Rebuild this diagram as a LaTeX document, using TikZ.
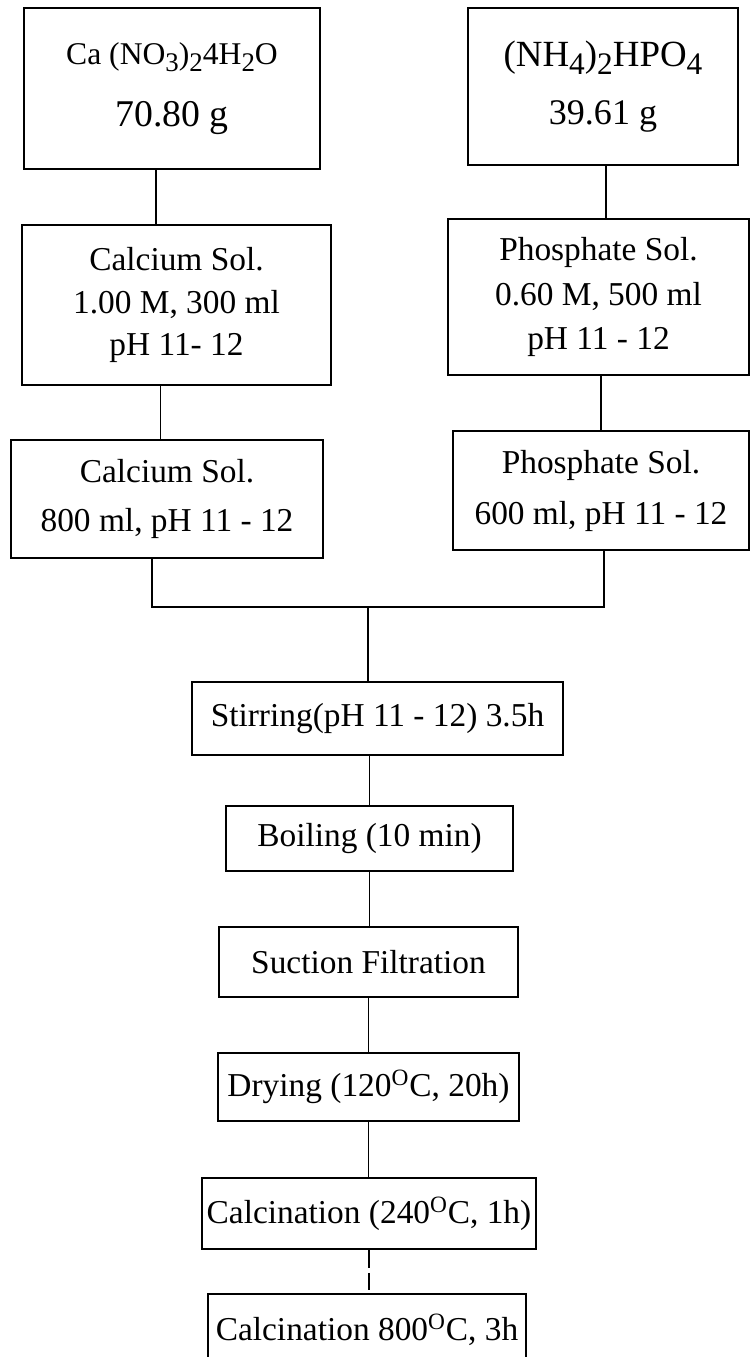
\documentclass[tikz,border=0pt]{standalone}
\usepackage{fontspec}
\setmainfont{Liberation Serif}
\usepackage{graphicx}
\newcommand{\sbs}[1]{\raisebox{-0.5ex}{\scalebox{0.85}{#1}}}
\newcommand{\dg}{\textsuperscript{O}}

\begin{document}
\begin{tikzpicture}[x=0.02cm,y=-0.02cm,line width=1.1pt,
  blk/.style={draw,align=center,inner sep=0pt,font=\fontsize{19}{23}\selectfont}]
\useasboundingbox (0,0) rectangle (751,1357);
% starting salts
\node[blk,minimum width=5.92cm,minimum height=3.22cm] (ca) at (172,88.5)
  {{\fontsize{18}{21}\selectfont Ca (NO\sbs{3})\sbs{2}4H\sbs{2}O}\\[12pt]{\fontsize{21.5}{26}\selectfont 70.80 g}};
\node[blk,minimum width=5.4cm,minimum height=3.14cm] (nh) at (603,86.5)
  {{\fontsize{21}{25}\selectfont (NH\sbs{4})\sbs{2}HPO\sbs{4}}\\[10pt]{\fontsize{20.5}{25}\selectfont 39.61 g}};
% solutions
\node[blk,minimum width=6.18cm,minimum height=3.2cm] (casol) at (176.5,305)
  {Calcium Sol.\\[1pt]1.00 M, 300 ml\\[1pt]pH 11- 12};
\node[blk,minimum width=6.02cm,minimum height=3.12cm] (phsol) at (598.5,297)
  {Phosphate Sol.\\[3pt]0.60 M, 500 ml\\[2pt]pH 11 - 12};
\node[blk,minimum width=6.24cm,minimum height=2.36cm] (casolb) at (167,499)
  {Calcium Sol.\\[5pt]800 ml, pH 11 - 12};
\node[blk,minimum width=5.92cm,minimum height=2.38cm] (phsolb) at (601,490.5)
  {Phosphate Sol.\\[6pt]600 ml, pH 11 - 12};
% processing steps
\node[blk,minimum width=7.42cm,minimum height=1.46cm] (stir) at (377.5,718.5) {Stirring(pH 11 - 12) 3.5h};
\node[blk,minimum width=5.74cm,minimum height=1.3cm] (boil) at (369.5,838.5) {Boiling (10 min)};
\node[blk,minimum width=5.98cm,minimum height=1.4cm] (filt) at (368.5,962) {Suction Filtration};
\node[blk,minimum width=6.02cm,minimum height=1.36cm] (dry) at (368.5,1087) {Drying (120\dg C, 20h)};
\node[blk,minimum width=6.68cm,minimum height=1.42cm] (calca) at (369,1213.5) {Calcination (240\dg C, 1h)};
\node[blk,minimum width=6.36cm,minimum height=1.42cm] (calcb) at (367,1329.5) {Calcination 800\dg C, 3h};
\coordinate (mrg) at (368,607);

\draw ([xshift=-0.32cm]ca.south) -- ([xshift=-0.32cm]ca.south |- casol.north);
\draw ([xshift=-0.32cm]casol.south) -- ([xshift=-0.32cm]casol.south |- casolb.north);
\draw ([xshift=0.06cm]nh.south) -- ([xshift=0.06cm]nh.south |- phsol.north);
\draw ([xshift=0.05cm]phsol.south) -- ([xshift=0.05cm]phsol.south |- phsolb.north);
\draw ([xshift=-0.3cm]casolb.south) |- (mrg) -| ([xshift=0.06cm]phsolb.south);
\draw (mrg) -- (mrg |- stir.north);
\draw (stir.south -| boil.north) -- (boil.north);
\draw (boil.south) -- (boil.south |- filt.north);
\draw (filt.south) -- (filt.south |- dry.north);
\draw (dry.south) -- (dry.south |- calca.north);
\draw[dash pattern=on 10pt off 3pt] (calca.south) -- (calca.south |- calcb.north);
\end{tikzpicture}
\end{document}
